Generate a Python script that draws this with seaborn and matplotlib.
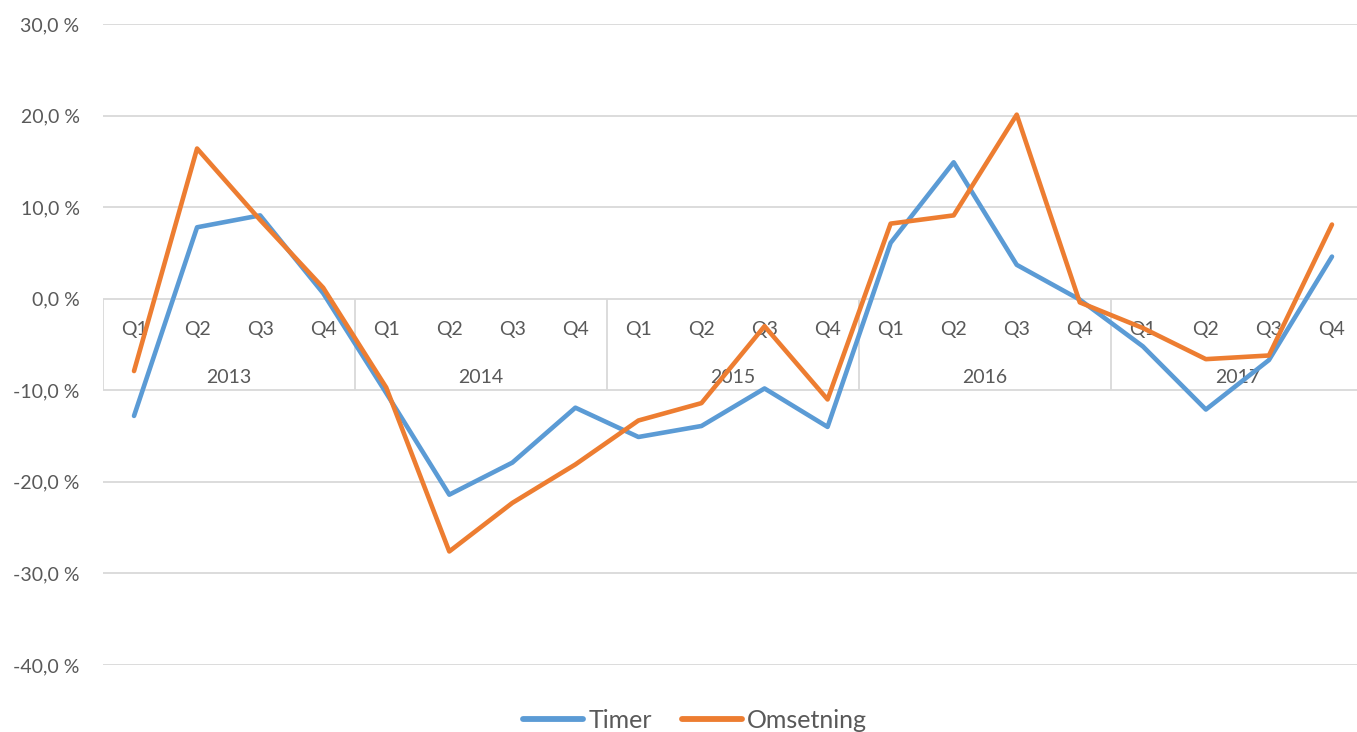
import pandas as pd
import seaborn as sns
import matplotlib.pyplot as plt
from matplotlib.ticker import FuncFormatter

sns.set_theme(style="whitegrid")
plt.rcParams['font.family'] = ['Lato', 'DejaVu Sans']

years = ["2013", "2014", "2015", "2016", "2017"]
quarters = ["Q1", "Q2", "Q3", "Q4"]

timer = [-12.8, 7.8, 9.1, 0.6, -10.3, -21.4, -17.9, -11.9, -15.1, -13.9,
         -9.8, -14.0, 6.1, 14.9, 3.7, -0.1, -5.2, -12.1, -6.7, 4.6]
omsetning = [-7.9, 16.4, 8.6, 1.2, -9.7, -27.6, -22.3, -18.1, -13.3, -11.4,
             -3.0, -11.0, 8.2, 9.1, 20.1, -0.4, -3.2, -6.6, -6.2, 8.1]

n = len(timer)
df = pd.DataFrame({
    "pos": list(range(n)) * 2,
    "verdi": timer + omsetning,
    "serie": ["Timer"] * n + ["Omsetning"] * n,
})

blue = "#5B9BD5"
orange = "#ED7D31"
grid_c = "#D9D9D9"
text_c = "#595959"

fig = plt.figure(figsize=(13.57, 7.32), dpi=100)
ax = fig.add_axes([102.5 / 1357, 67 / 732, 1261 / 1357, 641 / 732])

sns.lineplot(data=df, x="pos", y="verdi", hue="serie", palette=[blue, orange],
             linewidth=3.3, ax=ax, legend=False, zorder=5)

ax.set_xlim(-0.5, n - 0.5)
ax.set_ylim(-40, 30)
ax.set_yticks(range(-40, 31, 10))
ax.yaxis.set_major_formatter(FuncFormatter(lambda v, p: f"{v:.1f} %".replace(".", ",")))
ax.tick_params(axis="y", labelsize=14, labelcolor=text_c, pad=16.5, length=0)
ax.set_xticks([])
ax.grid(axis="y", color=grid_c, linewidth=1.3)
ax.grid(axis="x", visible=False)
for s in ax.spines.values():
    s.set_visible(False)
ax.set_xlabel("")
ax.set_ylabel("")

# category axis (multi-level) at y = 0
ax.vlines([-0.5 + 4 * i for i in range(len(years))], -10, 0, color=grid_c, linewidth=1.3, zorder=1)
for i in range(n):
    ax.text(i, -3.4, quarters[i % 4], ha="center", va="center", fontsize=14, color=text_c, zorder=2)
for j, yr in enumerate(years):
    ax.text(4 * j + 1.5, -8.6, yr, ha="center", va="center", fontsize=14, color=text_c, zorder=2)

handles = [plt.Line2D([], [], color=blue, linewidth=4.2, solid_capstyle="round"),
           plt.Line2D([], [], color=orange, linewidth=4.2, solid_capstyle="round")]
fig.legend(handles, ["Timer", "Omsetning"], loc="center", bbox_to_anchor=(695 / 1357, 12 / 732),
           ncol=2, frameon=False, fontsize=18, labelcolor=text_c, handlelength=2.4,
           handletextpad=0.2, columnspacing=1.2)

fig.savefig("out.png", dpi=100)
